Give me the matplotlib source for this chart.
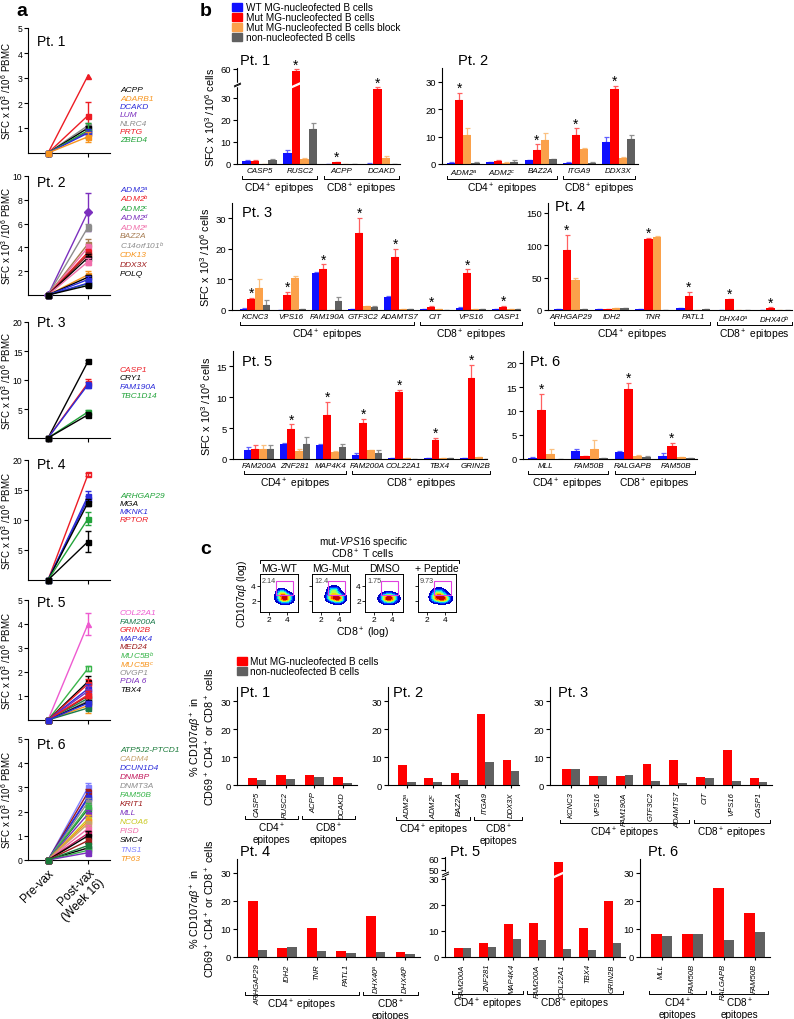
import numpy as np
import matplotlib
matplotlib.use("Agg")
import matplotlib.pyplot as plt
from matplotlib.patches import Rectangle

plt.rcParams['font.family'] = ['Liberation Sans', 'DejaVu Sans']
plt.rcParams['mathtext.fontset'] = 'custom'
plt.rcParams['mathtext.rm'] = 'Liberation Sans'
plt.rcParams['mathtext.it'] = 'Liberation Sans:italic'
plt.rcParams['mathtext.bf'] = 'Liberation Sans:bold'
plt.rcParams['axes.linewidth'] = 0.8

# ---------------- panel a data ----------------
a_titles = ['Pt. 1', 'Pt. 2', 'Pt. 3', 'Pt. 4', 'Pt. 5', 'Pt. 6']
a_genes = [
    ['ACPP', 'ADARB1', 'DCAKD', 'LUM', 'NLRC4', 'PRTG', 'ZBED4'],
    ['ADM2$^{a}$', 'ADM2$^{b}$', 'ADM2$^{c}$', 'ADM2$^{d}$', 'ADM2$^{e}$', 'BAZ2A',
     'C14orf101$^{b}$', 'CDK13', 'DDX3X', 'POLQ'],
    ['CASP1', 'CRY1', 'FAM190A', 'TBC1D14'],
    ['ARHGAP29', 'MGA', 'MKNK1', 'RPTOR'],
    ['COL22A1', 'FAM200A', 'GRIN2B', 'MAP4K4', 'MED24', 'MUC5B$^{b}$', 'MUC5B$^{c}$',
     'OVGP1', 'PDIA 6', 'TBX4'],
    ['ATP5J2-PTCD1', 'CADM4', 'DCUN1D4', 'DNMBP', 'DNMT3A', 'FAM50B', 'KRIT1', 'MLL',
     'NCOA6', 'PISD', 'SMC4', 'TNS1', 'TP63'],
]
# which gene each plotted line belongs to, its post-vax value and error
a_line_gene = [
    [5, 5, 4, 0, 3, 6, 2, 1],
    [3, 6, 5, 4, 1, 8, 9, 4, 7, 9, 0, 2, 0, 9],
    [1, 0, 2, 3, 1],
    [3, 2, 2, 1, 0, 1],
    [0, 5, 9, 2, 3, 8, 4, 1, 7, 6, 9, 2, 1, 3],
    [11, 6, 2, 2, 4, 0, 5, 7, 8, 12, 1, 9, 3, 10, 6, 10, 5, 7, 0],
]
a_post = [
    [3.1, 1.5, 1.1, 1.0, 0.85, 0.9, 0.8, 0.65],
    [7.0, 5.7, 4.3, 4.0, 3.6, 3.4, 3.15, 2.8, 1.7, 1.5, 1.3, 0.95, 1.0, 0.8],
    [13.2, 9.5, 9.2, 4.5, 4.0],
    [17.6, 14.0, 13.5, 12.9, 10.2, 6.4],
    [4.0, 2.15, 1.6, 1.5, 1.3, 1.2, 1.0, 0.9, 0.8, 0.6, 0.75, 1.05, 0.5, 0.7],
    [3.0, 2.8, 2.6, 2.55, 2.4, 2.1, 2.2, 1.9, 1.7, 1.6, 1.5, 1.3, 1.1, 1.0, 0.8, 0.5,
     0.4, 0.3, 0.6],
]
a_err = [
    [0, 0.55, 0.1, 0.08, 0.1, 0.3, 0.15, 0.2],
    [1.6, 0.3, 0.4, 0.3, 0.25, 0.2, 0.3, 0.3, 0.3, 0.2, 0.3, 0.2, 0.15, 0.15],
    [0.2, 0.7, 0.5, 0.3, 0.4],
    [0.3, 0.8, 0.5, 0.6, 1.1, 1.8],
    [0.45, 0.1, 0.25, 0.2, 0.2, 0.2, 0.2, 0.2, 0.15, 0.3, 0.15, 0.15, 0.1, 0.1],
    [0.2, 0.15, 0.2, 0.1, 0.15, 0.1, 0.15, 0.15, 0.15, 0.25, 0.1, 0.15, 0.1, 0.2,
     0.1, 0.2, 0.1, 0.1, 0.1],
]
a_yticks = [[1, 2, 3, 4, 5], [2, 4, 6, 8, 10], [5, 10, 15, 20], [5, 10, 15, 20],
            [1, 2, 3, 4, 5], [0, 1, 2, 3, 4, 5]]
a_xlabels = ['Pre-vax', 'Post-vax\n(Week 16)']

# ---------------- panel b data ----------------
b_series = ['WT MG-nucleofected B cells', 'Mut MG-nucleofected B cells',
            'Mut MG-nucleofected B cells block', 'non-nucleofected B cells']
CD4 = 'CD4$^+$ epitopes'
CD8 = 'CD8$^+$ epitopes'

b1_cats = ['CASP5', 'RUSC2', 'ACPP', 'DCAKD']
b1_vals = [[1.2, 4.9, 0.0, 0.2], [1.3, 58.5, 0.8, 34.0], [0.1, 2.3, 0.2, 2.9], [1.6, 16.0, 0.0, 0.0]]
b1_errs = [[0.8, 1.5, 0, 0.1], [0.3, 1.0, 0.2, 0.7], [0, 0.5, 0, 0.5], [0.5, 2.6, 0, 0]]
b1_star = [0, 1, 1, 1]
b1_groups = [(CD4, 2), (CD8, 2)]

b2_cats = ['ADM2$^{a}$', 'ADM2$^{c}$', 'BAZ2A', 'ITGA9', 'DDX3X']
b2_vals = [[0.5, 0.6, 1.3, 0.5, 8.0], [23.3, 1.1, 5.1, 10.6, 27.3],
           [10.7, 0.4, 8.6, 5.5, 2.3], [0.5, 0.9, 1.7, 0.4, 9.1]]
b2_errs = [[0.3, 0.3, 0.2, 0.2, 1.8], [2.7, 0.3, 2.1, 2.4, 1.3],
           [2.6, 0.2, 2.7, 0.3, 0.3], [0.1, 0.4, 0.2, 0.2, 1.3]]
b2_star = [1, 0, 1, 1, 1]
b2_groups = [(CD4, 3), (CD8, 2)]

b3_cats = ['KCNC3', 'VPS16', 'FAM190A', 'GTF3C2', 'ADAMTS7', 'CIT', 'VPS16', 'CASP1']
b3_vals = [[0.3, 0.0, 12.2, 0.2, 4.4, 0.2, 0.5, 0.2],
           [3.7, 4.8, 13.5, 25.1, 17.4, 1.0, 12.2, 1.1],
           [7.3, 10.6, 0.1, 1.2, 0.3, 0.2, 0.3, 0.3],
           [1.7, 0.2, 2.9, 1.1, 0.2, 0.1, 0.3, 0.2]]
b3_errs = [[0.2, 0, 0.3, 0.1, 0.2, 0.1, 0.5, 0.1],
           [0.3, 1.2, 1.4, 5.1, 2.7, 0.2, 1.1, 0.3],
           [2.7, 0.4, 0, 0.1, 0.1, 0, 0.1, 0.1],
           [1.5, 0, 1.3, 0.3, 0.1, 0, 0.1, 0]]
b3_star = [1, 1, 1, 1, 1, 1, 1, 1]
b3_groups = [(CD4, 5), (CD8, 3)]

b4_cats = ['ARHGAP29', 'IDH2', 'TNR', 'PATL1', 'DHX40$^{a}$', 'DHX40$^{b}$']
b4_vals = [[1.5, 1.5, 1.0, 2.5, 0.0, 0.0], [93, 2.0, 109, 22, 16.6, 3.6],
           [47, 2.5, 112, 0.5, 0.3, 0.3], [1.2, 2.5, 0.0, 1.0, 0.3, 0.0]]
b4_errs = [[0.3, 0.2, 0.2, 0.5, 0, 0], [23, 0.3, 2, 6, 0.5, 0.5],
           [3, 0.2, 2, 0, 0, 0], [0.2, 0.3, 0, 0.2, 0, 0]]
b4_star = [1, 0, 1, 1, 1, 1]
b4_groups = [(CD4, 4), (CD8, 2)]

b5_cats = ['FAM200A', 'ZNF281', 'MAP4K4', 'FAM200A', 'COL22A1', 'TBX4', 'GRIN2B']
b5_vals = [[1.4, 2.4, 2.2, 0.7, 0.1, 0.1, 0.1], [1.7, 4.8, 7.2, 5.8, 10.8, 3.0, 13.2],
           [1.7, 1.25, 1.1, 1.4, 0.1, 0.2, 0.3], [1.7, 2.5, 2.0, 1.0, 0.05, 0.2, 0.0]]
b5_errs = [[0.5, 0.2, 0.3, 0.3, 0, 0, 0.05], [0.6, 0.8, 2.1, 0.7, 0.4, 0.4, 2.1],
           [0.6, 0.3, 0.2, 0, 0, 0, 0], [0.5, 1.0, 0.5, 0.4, 0, 0, 0]]
b5_star = [0, 1, 1, 1, 1, 1, 1]
b5_groups = [(CD4, 3), (CD8, 4)]

b6_cats = ['MLL', 'FAM50B', 'RALGAPB', 'FAM50B']
b6_vals = [[0.2, 1.6, 1.5, 0.7], [10.2, 0.7, 14.6, 2.7], [1.1, 2.0, 0.6, 0.4], [0.0, 0.15, 0.5, 0.2]]
b6_errs = [[0.3, 0.5, 0.2, 0.5], [3.4, 0, 1.3, 0.6], [1.0, 1.9, 0.3, 0.05], [0, 0.05, 0.05, 0.05]]
b6_star = [1, 0, 1, 1]
b6_groups = [(CD4, 2), (CD8, 2)]

# ---------------- panel c data ----------------
c_series = ['Mut MG-nucleofected B cells', 'non-nucleofected B cells']
flow_titles = ['MG-WT', 'MG-Mut', 'DMSO', '+ Peptide']
flow_pct = ['2.14', '12.4', '1.75', '9.73']
# density blobs (cx, cy, sx, sy, weight) of the CD8 x CD107 plots
flow_blobs = [
    [(3.75, 2.35, 0.5, 0.4, 1.0), (3.4, 3.0, 0.35, 0.35, 0.5)],
    [(3.85, 2.35, 0.45, 0.38, 1.0), (3.4, 3.3, 0.4, 0.38, 0.6), (3.1, 2.5, 0.35, 0.35, 0.5)],
    [(3.65, 2.35, 0.55, 0.4, 1.0)],
    [(3.75, 2.3, 0.5, 0.35, 1.0), (3.3, 3.0, 0.45, 0.4, 0.6), (2.9, 2.4, 0.35, 0.35, 0.5)],
]

CD4b = 'CD4$^+$\nepitopes'
CD8b = 'CD8$^+$\nepitopes'
c1_cats = ['CASP5', 'RUSC2', 'ACPP', 'DCAKD']
c1_mut = [2.4, 3.5, 3.6, 2.9]
c1_non = [1.8, 2.0, 2.9, 0.6]
c1_groups = [(CD4b, 2), (CD8b, 2)]

c2_cats = ['ADM2$^{a}$', 'ADM2$^{c}$', 'BAZ2A', 'ITGA9', 'DDX3X']
c2_mut = [7.0, 2.4, 4.2, 25.2, 8.9]
c2_non = [1.1, 1.2, 1.8, 8.1, 5.1]
c2_groups = [(CD4, 3), (CD8b, 2)]

c3_cats = ['KCNC3', 'VPS16', 'FAM190A', 'GTF3C2', 'ADAMTS7', 'CIT', 'VPS16', 'CASP1']
c3_mut = [5.6, 3.1, 3.2, 7.6, 8.9, 2.9, 12.4, 2.6]
c3_non = [5.8, 3.2, 3.6, 1.3, 0.8, 2.5, 1.5, 1.1]
c3_groups = [(CD4, 5), (CD8, 3)]

c4_cats = ['ARHGAP29', 'IDH2', 'TNR', 'PATL1', 'DHX40$^{a}$', 'DHX40$^{b}$']
c4_mut = [20.0, 3.2, 10.5, 2.2, 14.5, 1.8]
c4_non = [2.5, 3.7, 2.0, 1.4, 1.8, 1.2]
c4_groups = [(CD4, 4), (CD8b, 2)]

c5_cats = ['FAM200A', 'ZNF281', 'MAP4K4', 'FAM200A', 'COL22A1', 'TBX4', 'GRIN2B']
c5_mut = [3.5, 5.2, 12.5, 13.0, 57.0, 11.0, 21.5]
c5_non = [3.5, 4.0, 7.0, 6.5, 3.0, 2.5, 5.2]
c5_groups = [(CD4, 3), (CD8, 4)]

c6_cats = ['MLL', 'FAM50B', 'RALGAPB', 'FAM50B']
c6_mut = [8.3, 8.2, 24.5, 15.8]
c6_non = [7.5, 8.2, 6.2, 8.8]
c6_groups = [(CD4b, 2), (CD8b, 2)]

# ---------------- styles ----------------
a_colors = [
    ['#000000', '#f7941d', '#2b2bd9', '#7b2fbe', '#8c8c8c', '#ed1c24', '#22a33a'],
    ['#2b2bd9', '#ed1c24', '#22a33a', '#7b2fbe', '#f06eaa', '#a67c52', '#8c8c8c',
     '#f7941d', '#9e1b1b', '#000000'],
    ['#ed1c24', '#000000', '#2b2bd9', '#22a33a'],
    ['#22a33a', '#000000', '#2b2bd9', '#ed1c24'],
    ['#ee5ad0', '#1a7a4a', '#ed1c24', '#2b2bd9', '#9e1b1b', '#39b54a', '#f7941d',
     '#8c8c8c', '#7b2fbe', '#000000'],
    ['#1a7a3a', '#c7a26b', '#2b2bd9', '#c2185b', '#8c8c8c', '#39b54a', '#9e1b1b',
     '#7b2fbe', '#c8c81e', '#f06eaa', '#000000', '#8080ff', '#f7941d'],
]
a_special_marker = {(0, 0): '^', (1, 0): 'D', (3, 0): 'open', (4, 0): '^', (4, 1): 'open'}
bar_colors = ['#1010ff', '#ff0000', '#fba14a', '#606060']
err_colors = ['#6060ff', '#ff6060', '#fbc080', '#909090']
c_colors = ['#ff0000', '#606060']

W, H = 794, 1020
fig = plt.figure(figsize=(W / 100, H / 100), dpi=100)


def px_ax(x0, y0, x1, y1):
    return fig.add_axes([x0 / W, 1 - y1 / H, (x1 - x0) / W, (y1 - y0) / H])


def ftxt(x, y, s, **kw):
    kw.setdefault('va', 'center')
    return fig.text(x / W, 1 - y / H, s, **kw)


def style_ax(ax, size=6.8):
    for s in ('top', 'right'):
        ax.spines[s].set_visible(False)
    ax.tick_params(direction='out', length=3, width=0.8, labelsize=size, pad=1.5)


def make_break(lo, hi, lo_out, k):
    def fwd(v):
        v = np.asarray(v, float)
        g = lo + (v - lo) * (lo_out - lo) / (hi - lo)
        return np.where(v <= lo, v, np.where(v <= hi, g, lo_out + (v - hi) * k))

    def inv(u):
        u = np.asarray(u, float)
        g = lo + (u - lo) * (hi - lo) / (lo_out - lo)
        return np.where(u <= lo, u, np.where(u <= lo_out, g, hi + (u - lo_out) / k))
    return fwd, inv


def bracket(ax, x0, x1, label, dy, tick=3, size=7.4):
    trans = ax.get_xaxis_transform()
    h = ax.get_position().height * H
    y = -dy / h
    yt = -(dy - tick) / h
    ax.plot([x0, x0, x1, x1], [yt, y, y, yt], transform=trans, color='k', lw=0.7,
            clip_on=False)
    ax.text((x0 + x1) / 2, -(dy + 2) / h, label, transform=trans, ha='center',
            va='top', fontsize=size, linespacing=1.0)


def draw_groups(ax, groups, dy, size=7.4):
    start = 0
    for lab, n in groups:
        bracket(ax, start - 0.42, start + n - 0.58, lab, dy, size=size)
        start += n


def slash(ax, x, yv, trans, color, ms, mew):
    m = [(-1, -0.45), (1, 0.45)]
    ax.plot([x], [yv], transform=trans, marker=m, ms=ms, mec=color, mew=mew,
            ls='none', clip_on=False, zorder=6)


# ---------------- panel a ----------------
a_rows = [(29, 154), (177, 296), (323, 439), (461, 581), (601, 721), (740, 861)]
a_title_y = [42, 183, 323, 465, 603, 745]
a_leg_y = [91, 190, 370, 496, 614, 750]
a_leg_dy = [8.3, 9.4, 8.7, 8.3, 8.5, 9.1]
ymax = [5, 10, 20, 20, 5, 5]
ftxt(16, 12, 'a', fontsize=14, fontweight='bold')
for p in range(6):
    y0, y1 = a_rows[p]
    ax = px_ax(28, y0, 110, y1)
    style_ax(ax, 6.2)
    ax.tick_params(axis='y', pad=1)
    for li, g in enumerate(a_line_gene[p]):
        col = a_colors[p][g]
        mk = a_special_marker.get((p, li), 's')
        mfc = col
        if mk == 'open':
            mk, mfc = 's', 'white'
        ax.plot([0, 1], [0, a_post[p][li]], color=col, lw=1.0, marker=mk, ms=3.6,
                mfc=mfc, mec=col, mew=1.0, clip_on=False, zorder=3)
        if a_err[p][li] > 0:
            ax.errorbar([1], [a_post[p][li]], yerr=[a_err[p][li]], color=col, lw=1.0,
                        capsize=2.2, capthick=1.0, ls='none', clip_on=False, zorder=3)
    ax.set_xlim(-0.5, 1.55)
    ax.set_ylim(0, ymax[p])
    ax.set_yticks(a_yticks[p])
    ax.set_xticks([0, 1])
    if p == 5:
        ax.set_xticklabels(a_xlabels, rotation=45, ha='right', rotation_mode='anchor',
                           fontsize=8.6)
    else:
        ax.set_xticklabels(['', ''])
    ax.set_ylabel('SFC x 10$^3$ /10$^6$ PBMC', fontsize=7.0)
    ax.yaxis.set_label_coords((13.5 - 28) / 82, 0.5)
    ftxt(37, a_title_y[p], a_titles[p], fontsize=10)
    for gi, gname in enumerate(a_genes[p]):
        ftxt(120, a_leg_y[p] + gi * a_leg_dy[p], gname, fontsize=6.0, style='italic',
             color=a_colors[p][gi])

# ---------------- panel b ----------------
ftxt(200, 12, 'b', fontsize=14, fontweight='bold')
for i, lab in enumerate(b_series):
    yy = 8 + i * 10
    fig.patches.append(Rectangle((232 / W, 1 - (yy + 4) / H), 10 / W, 8 / H,
                                 transform=fig.transFigure, color=bar_colors[i]))
    ftxt(246, yy, lab, fontsize=7.2)


def draw_b(rect, cats, vals, errs, star, groups, ylim, yticks, xlim, title_xy,
           ylabel=False, scale=None):
    ax = px_ax(*rect)
    style_ax(ax)
    if scale is not None:
        ax.set_yscale('function', functions=scale)
    bw = 0.21
    x = np.arange(len(cats))
    for s in range(4):
        off = (s - 1.5) * bw
        ax.bar(x + off, vals[s], width=bw, color=bar_colors[s], zorder=2)
        e = np.array(errs[s])
        ax.errorbar(x + off, vals[s], yerr=[np.zeros_like(e), e], fmt='none',
                    ecolor=err_colors[s], elinewidth=0.9, capsize=1.8, capthick=0.9,
                    zorder=1)
    for i, st in enumerate(star):
        if st:
            top = vals[1][i] + errs[1][i]
            ax.annotate('*', (x[i] - 0.5 * bw, top), xytext=(0, -1.5),
                        textcoords='offset points', ha='center', va='bottom',
                        fontsize=10)
    ax.set_xlim(*xlim)
    ax.set_ylim(*ylim)
    ax.set_yticks(yticks)
    ax.set_xticks(x)
    ax.set_xticklabels(cats, fontsize=5.8, style='italic')
    ax.tick_params(axis='x', length=0, pad=2.5)
    draw_groups(ax, groups, 15)
    if ylabel:
        ax.set_ylabel('SFC x 10$^3$ /10$^6$ cells', fontsize=7.8, labelpad=2)
    ftxt(title_xy[0], title_xy[1], title_xy[2], fontsize=10.5)
    return ax


b1_scale = make_break(35, 50, 37, 0.62)
ax = draw_b((237, 69, 400, 165), b1_cats, b1_vals, b1_errs, b1_star, b1_groups,
            (0, 60.5), [0, 10, 20, 30, 60], (-0.55, 3.45), (240, 61, 'Pt. 1'), True,
            b1_scale)
tr = ax.get_yaxis_transform()
ax.plot([0, 0], [41, 44], transform=tr, color='white', lw=2.5, clip_on=False, zorder=5)
slash(ax, 0, 41, tr, 'k', 5, 0.7)
slash(ax, 0, 44, tr, 'k', 5, 0.7)
slash(ax, 1 - 0.5 * 0.21, 42, ax.transData, 'white', 7, 1.0)
slash(ax, 1 - 0.5 * 0.21, 45, ax.transData, 'white', 7, 1.0)

draw_b((442, 69, 638, 165), b2_cats, b2_vals, b2_errs, b2_star, b2_groups,
       (0, 35), [0, 10, 20, 30], (-0.55, 4.5), (458, 61, 'Pt. 2'))
draw_b((232, 204, 520, 311), b3_cats, b3_vals, b3_errs, b3_star, b3_groups,
       (0, 35), [0, 10, 20, 30], (-0.64, 7.36), (242, 213, 'Pt. 3'), True)
draw_b((548, 204, 792, 311), b4_cats, b4_vals, b4_errs, b4_star, b4_groups,
       (0, 165), [0, 50, 100, 150], (-0.57, 5.43), (555, 207, 'Pt. 4'))
draw_b((233, 352, 487, 460), b5_cats, b5_vals, b5_errs, b5_star, b5_groups,
       (0, 17.5), [0, 5, 10, 15], (-0.72, 6.33), (242, 362, 'Pt. 5'), True)
draw_b((523, 352, 697, 460), b6_cats, b6_vals, b6_errs, b6_star, b6_groups,
       (0, 22.5), [0, 5, 10, 15, 20], (-0.53, 3.47), (530, 362, 'Pt. 6'))

# ---------------- panel c : flow plots ----------------
ftxt(200, 550, 'c', fontsize=14, fontweight='bold')
ftxt(363, 542, 'mut-$\\mathit{VPS16}$ specific', fontsize=7.2, ha='center')
ftxt(363, 554, 'CD8$^+$ T cells', fontsize=7.6, ha='center')
ln = plt.Line2D([260 / W, 260 / W, 459 / W, 459 / W],
                [1 - 564 / H, 1 - 561 / H, 1 - 561 / H, 1 - 564 / H],
                transform=fig.transFigure, color='k', lw=0.7)
fig.lines.append(ln)
gx = np.linspace(1, 5.2, 160)
gy = np.linspace(0.5, 5.6, 160)
GX, GY = np.meshgrid(gx, gy)
flow_x0 = [260, 312, 365, 418]
for k in range(4):
    ax = px_ax(flow_x0[k], 575, flow_x0[k] + 38, 613)
    Z = np.zeros_like(GX)
    for cx, cy, sx, sy, w in flow_blobs[k]:
        Z += w * np.exp(-((GX - cx) ** 2 / (2 * sx ** 2) + (GY - cy) ** 2 / (2 * sy ** 2)))
    Z /= Z.max()
    ax.contourf(GX, GY, Z, levels=np.linspace(0.08, 1.0, 9), cmap='jet')
    ax.add_patch(Rectangle((2.8, 2.8), 1.9, 1.9, fill=False, ec='#e040e0', lw=0.8))
    ax.text(0.05, 0.93, flow_pct[k], transform=ax.transAxes, fontsize=5.2,
            color='#444444', va='top')
    ax.set_xlim(1, 5.2)
    ax.set_ylim(0.5, 5.6)
    ax.set_xticks([2, 4])
    ax.set_yticks([2, 4])
    ax.tick_params(direction='out', length=2, width=0.6, labelsize=6.0, pad=1)
    for s in ax.spines.values():
        s.set_linewidth(0.7)
    if k not in (0, 2):
        ax.set_yticklabels([])
    ftxt(flow_x0[k] + 19, 569, flow_titles[k], fontsize=7.4, ha='center')
ftxt(363, 633, 'CD8$^+$ (log)', fontsize=7.6, ha='center')
ftxt(242, 594, 'CD107$\\alpha\\beta$ (log)', fontsize=7.4, ha='center', rotation=90)

# ---------------- panel c : bars ----------------
for i, lab in enumerate(c_series):
    yy = 662 + i * 10
    fig.patches.append(Rectangle((237 / W, 1 - (yy + 4) / H), 10 / W, 8 / H,
                                 transform=fig.transFigure, color=c_colors[i]))
    ftxt(250, yy, lab, fontsize=7.2)


def draw_c(rect, cats, mut, non, groups, xlim, title_xy, dy, ylabel=False,
           scale=None, ylim=(0, 35), yticks=(0, 10, 20, 30)):
    ax = px_ax(*rect)
    style_ax(ax)
    if scale is not None:
        ax.set_yscale('function', functions=scale)
    bw = 0.33
    x = np.arange(len(cats))
    ax.bar(x - bw / 2, mut, width=bw, color=c_colors[0])
    ax.bar(x + bw / 2, non, width=bw, color=c_colors[1])
    ax.set_xlim(*xlim)
    ax.set_ylim(*ylim)
    ax.set_yticks(list(yticks))
    ax.set_xticks(x)
    ax.set_xticklabels(cats, fontsize=5.5, style='italic', rotation=90)
    ax.tick_params(axis='x', length=2.5, pad=2)
    draw_groups(ax, groups, dy, 7.2)
    if ylabel:
        ax.set_ylabel('% CD107$\\alpha\\beta^+$ in\nCD69$^+$ CD4$^+$ or CD8$^+$ cells',
                      fontsize=7.8, labelpad=2, linespacing=1.0)
    ftxt(title_xy[0], title_xy[1], title_xy[2], fontsize=10.5)
    return ax


draw_c((237, 688, 357, 786), c1_cats, c1_mut, c1_non, c1_groups, (-0.7, 3.5),
       (240, 693, 'Pt. 1'), 34, True)
draw_c((388, 688, 519, 786), c2_cats, c2_mut, c2_non, c2_groups, (-0.73, 4.3),
       (393, 693, 'Pt. 2'), 35)
draw_c((550, 688, 772, 786), c3_cats, c3_mut, c3_non, c3_groups, (-0.78, 7.5),
       (558, 693, 'Pt. 3'), 38)
draw_c((237, 860, 420, 958), c4_cats, c4_mut, c4_non, c4_groups, (-0.7, 5.5),
       (240, 852, 'Pt. 4'), 38, True)
c5_scale = make_break(31, 48, 32.5, 0.45)
ax = draw_c((445, 858, 625, 958), c5_cats, c5_mut, c5_non, c5_groups, (-0.7, 6.5),
            (450, 852, 'Pt. 5'), 37, scale=c5_scale, ylim=(0, 61),
            yticks=(0, 10, 20, 30, 50, 60))
tr = ax.get_yaxis_transform()
ax.plot([0, 0], [35, 44], transform=tr, color='white', lw=2.5, clip_on=False, zorder=5)
slash(ax, 0, 36, tr, 'k', 5, 0.7)
slash(ax, 0, 43, tr, 'k', 5, 0.7)
slash(ax, 4 - 0.165, 38, ax.transData, 'white', 7, 1.0)
slash(ax, 4 - 0.165, 42, ax.transData, 'white', 7, 1.0)
draw_c((640, 860, 770, 958), c6_cats, c6_mut, c6_non, c6_groups, (-0.7, 3.5),
       (648, 852, 'Pt. 6'), 37)

fig.savefig('out.png', dpi=100)
